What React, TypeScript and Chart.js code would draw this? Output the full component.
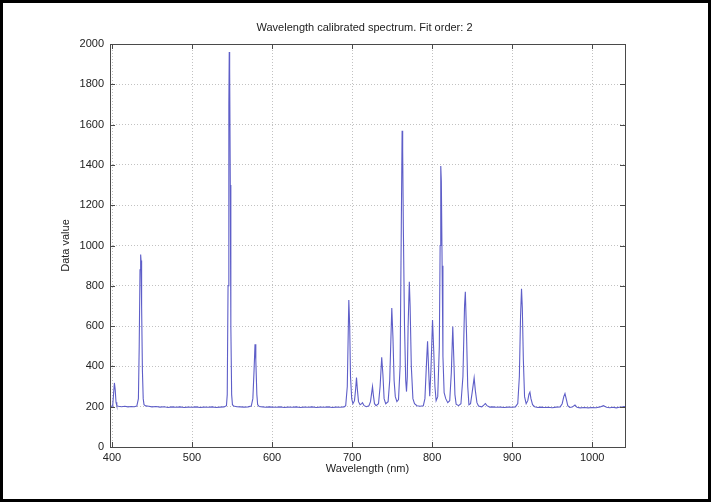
import React, { useEffect, useRef } from "react";
import { Chart, registerables } from "chart.js";

Chart.register(...registerables);

// Spectrum samples (wavelength in nm, value in counts)
const wavelengths = [
  397.5, 400, 401, 402, 403, 404, 405, 406,
  408, 412, 416, 420, 424, 428, 431, 433,
  434, 435, 435.8, 436.3, 437, 438, 439, 440,
  442, 446, 450, 455, 460, 465, 470, 475,
  480, 485, 490, 495, 500, 505, 510, 515,
  520, 525, 530, 535, 540, 543, 544, 545,
  546, 546.5, 547, 547.8, 548.5, 549.5, 550.5, 552,
  556, 560, 565, 570, 574, 576, 577.5, 578.7,
  579.7, 581, 582, 584, 588, 592, 596, 600,
  605, 610, 615, 620, 625, 630, 635, 640,
  645, 650, 655, 660, 665, 670, 675, 680,
  685, 690, 692, 694, 695.9, 697, 698, 699.5,
  701, 703, 704.5, 705.5, 706.5, 708, 710, 712,
  713, 715, 718, 721, 723, 724.5, 725.5, 726.5,
  728, 730, 733, 735, 737, 738.5, 740, 742,
  745, 747, 749.6, 751, 752.5, 754, 756, 758,
  760, 761.5, 762.5, 763.2, 764, 765.5, 767, 768,
  769, 770, 771.5, 772.5, 774, 776, 778, 781,
  785, 789, 791, 793, 794.3, 795.5, 797, 798.5,
  800.5, 802, 803.5, 805, 807, 809, 810, 810.8,
  811.5, 812.5, 813.5, 815, 817, 819.5, 822, 824,
  825.8, 827, 828.5, 830, 833, 836, 838.5, 840.5,
  841.5, 843, 844.5, 846, 848, 850, 852.5, 854,
  856, 858, 862, 864.5, 866.5, 868.5, 872, 876,
  880, 885, 890, 895, 900, 904, 907, 909,
  910.5, 911.7, 912.7, 914, 915.5, 917.5, 919.5, 921,
  922.2, 923.5, 925.5, 928, 932, 936, 940, 945,
  950, 955, 960, 962.5, 964.5, 966, 967.5, 969.5,
  972, 975, 978.5, 981, 985, 990, 995, 1000,
  1005, 1010, 1014, 1018, 1022, 1026, 1030, 1034,
  1038, 1041,
];

const intensities = [
  201, 203, 212, 265, 318, 285, 222, 205,
  202, 200, 202, 199, 201, 200, 203, 240,
  500, 880, 955, 925, 700, 380, 240, 210,
  204, 202, 199, 201, 198, 200, 196, 199,
  197, 199, 196, 198, 197, 199, 196, 198,
  197, 199, 196, 198, 199, 205, 260, 800,
  1700, 1960, 1880, 1300, 600, 260, 210, 203,
  200, 199, 198, 199, 203, 240, 380, 510,
  430, 260, 210, 201, 199, 197, 199, 198,
  197, 199, 196, 198, 197, 199, 196, 198,
  197, 199, 196, 198, 197, 199, 196, 198,
  197, 199, 205, 300, 730, 600, 350, 240,
  215, 230, 290, 345, 290, 225, 210, 215,
  220, 205, 200, 204, 225, 270, 300, 260,
  215, 205, 215, 300, 445, 360, 240, 215,
  225, 330, 690, 550, 330, 250, 225, 235,
  400, 1100, 1570, 1470, 1100, 600, 330, 275,
  350, 600, 820, 700, 400, 240, 215, 205,
  202, 205, 240, 420, 525, 400, 252, 380,
  630, 480, 300, 230, 250, 500, 1000, 1395,
  1320, 900, 450, 270, 240, 220, 230, 370,
  598, 450, 260, 212, 205, 215, 350, 700,
  770, 560, 300, 210, 215, 270, 343, 280,
  220, 203, 199, 208, 216, 205, 198, 199,
  197, 198, 196, 198, 197, 199, 215, 350,
  650, 785, 690, 430, 250, 215, 230, 262,
  272, 240, 210, 200, 196, 198, 196, 197,
  195, 198, 199, 215, 250, 265, 240, 205,
  196, 198, 208, 197, 194, 196, 194, 196,
  195, 199, 205, 197, 195, 197, 194, 197,
  199, 201,
];

const xTickValues = [400, 500, 600, 700, 800, 900, 1000];
const yTickValues = [0, 200, 400, 600, 800, 1000, 1200, 1400, 1600, 1800, 2000];

const chartTitle = "Wavelength calibrated spectrum. Fit order: 2";
const xAxisTitle = "Wavelength (nm)";
const yAxisTitle = "Data value";

const FONT = "'Liberation Sans', Arial, Helvetica, sans-serif";
const TEXT = "#222222";

const boxPlugin = {
  id: "matlabBox",
  afterDraw(chart: any) {
    const { ctx, chartArea: a, scales } = chart;
    ctx.save();
    ctx.strokeStyle = "#4a4a4a";
    ctx.lineWidth = 1;
    ctx.beginPath();
    for (const v of xTickValues) {
      const px = Math.round(scales.x.getPixelForValue(v)) + 0.5;
      ctx.moveTo(px, a.bottom);
      ctx.lineTo(px, a.bottom - 5);
      ctx.moveTo(px, a.top);
      ctx.lineTo(px, a.top + 5);
    }
    for (const v of yTickValues) {
      const py = Math.round(scales.y.getPixelForValue(v)) + 0.5;
      ctx.moveTo(a.left, py);
      ctx.lineTo(a.left + 5, py);
      ctx.moveTo(a.right, py);
      ctx.lineTo(a.right - 5, py);
    }
    ctx.stroke();
    ctx.strokeRect(
      Math.round(a.left) + 0.5,
      Math.round(a.top) + 0.5,
      Math.round(a.right) - Math.round(a.left),
      Math.round(a.bottom) - Math.round(a.top)
    );
    // title centred over the axes box, as in the reference
    ctx.fillStyle = TEXT;
    ctx.font = `11px ${FONT}`;
    ctx.textAlign = "center";
    ctx.textBaseline = "middle";
    ctx.fillText(chartTitle, (a.left + a.right) / 2 - 3, 28);
    ctx.restore();
  },
};

export default function App() {
  const canvasRef = useRef<HTMLCanvasElement | null>(null);

  useEffect(() => {
    const canvas = canvasRef.current;
    if (!canvas) return;
    const points = wavelengths.map((w, i) => ({ x: w, y: intensities[i] }));
    const chart = new Chart(canvas, {
      type: "line",
      data: {
        datasets: [
          {
            data: points,
            borderColor: "#5e5ec8",
            borderWidth: 1.1,
            pointRadius: 0,
            tension: 0,
            fill: false,
          },
        ],
      },
      options: {
        responsive: false,
        animation: false,
        devicePixelRatio: 1,
        layout: { padding: { left: 0, right: 86, top: 44, bottom: 0 } },
        plugins: {
          legend: { display: false },
          tooltip: { enabled: false },
          title: { display: false },
        },
        scales: {
          x: {
            type: "linear",
            min: 397.5,
            max: 1041,
            afterBuildTicks: (s: any) => {
              s.ticks = xTickValues.map((v) => ({ value: v }));
            },
            afterFit: (s: any) => {
              s.height = 55;
            },
            grid: { color: "#c2c2c2", drawTicks: false, lineWidth: 1 },
            border: { display: false, dash: [1, 2] },
            ticks: {
              color: TEXT,
              font: { family: FONT, size: 11 },
              padding: 4,
              maxRotation: 0,
              autoSkip: false,
              callback: (v: any) => String(v),
            },
            title: {
              display: true,
              text: xAxisTitle,
              color: TEXT,
              font: { family: FONT, size: 11 },
              padding: { top: 0, bottom: 26 },
            },
          },
          y: {
            type: "linear",
            min: 0,
            max: 2000,
            afterBuildTicks: (s: any) => {
              s.ticks = yTickValues.map((v) => ({ value: v }));
            },
            afterFit: (s: any) => {
              s.width = 110;
            },
            grid: { color: "#c2c2c2", drawTicks: false, lineWidth: 1 },
            border: { display: false, dash: [1, 2] },
            ticks: {
              color: TEXT,
              font: { family: FONT, size: 11 },
              padding: 6,
              autoSkip: false,
              callback: (v: any) => String(v),
            },
            title: {
              display: true,
              text: yAxisTitle,
              color: TEXT,
              font: { family: FONT, size: 11 },
              padding: { top: 59, bottom: 0 },
            },
          },
        },
      },
      plugins: [boxPlugin],
    });
    return () => chart.destroy();
  }, []);

  return (
    <div
      style={{
        position: "fixed",
        left: 0,
        top: 0,
        width: 711,
        height: 502,
        background: "#ffffff",
      }}
    >
      <canvas
        ref={canvasRef}
        width={711}
        height={502}
        style={{ position: "absolute", left: 0, top: 0, width: 711, height: 502, display: "block" }}
      />
      <div
        style={{
          position: "absolute",
          left: 0,
          top: 0,
          width: 711,
          height: 502,
          boxSizing: "border-box",
          border: "3px solid #000",
          pointerEvents: "none",
        }}
      />
    </div>
  );
}
